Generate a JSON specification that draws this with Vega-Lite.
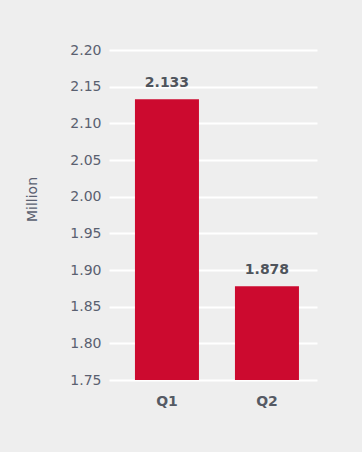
{
  "$schema": "https://vega.github.io/schema/vega-lite/v6.json",
  "autosize": "none",
  "width": 208,
  "height": 330,
  "padding": {"left": 109, "top": 50, "right": 45, "bottom": 72},
  "background": "#eeeeee",
  "config": {
    "view": {"stroke": null},
    "font": "DejaVu Sans"
  },
  "data": {"values": [
    {"quarter": "Q1", "value": 2.133, "label": "2.133"},
    {"quarter": "Q2", "value": 1.878, "label": "1.878"}
  ]},
  "encoding": {
    "x": {
      "field": "quarter", "type": "nominal",
      "scale": {"paddingInner": 0.36, "paddingOuter": 0.22, "align": 0.59},
      "axis": {"title": null, "labelAngle": 0, "domain": false, "ticks": false, "grid": false,
               "labelFontSize": 14, "labelFontWeight": "bold", "labelColor": "#555a64", "labelPadding": 14}
    },
    "y": {
      "field": "value", "type": "quantitative",
      "scale": {"domain": [1.75, 2.2], "zero": false, "nice": false},
      "axis": {"title": "Million", "titleFontSize": 14, "titleFontWeight": "normal", "titleColor": "#5a6070",
               "titlePadding": 30, "titleY": 149, "values": [1.75, 1.8, 1.85, 1.9, 1.95, 2.0, 2.05, 2.1, 2.15, 2.2],
               "format": ".2f", "domain": false, "ticks": false, "labelPadding": 8,
               "labelFontSize": 14, "labelColor": "#5a6070",
               "gridColor": "#ffffff", "gridWidth": 2, "gridOpacity": 1}
    }
  },
  "layer": [
    {"mark": {"type": "bar", "color": "#cc0a2f"}, "encoding": {"y2": {"datum": 1.75}}},
    {"mark": {"type": "text", "baseline": "bottom", "dy": -9, "fontSize": 14, "fontWeight": "bold", "color": "#4f545c"},
     "encoding": {"text": {"field": "label"}}}
  ]
}
